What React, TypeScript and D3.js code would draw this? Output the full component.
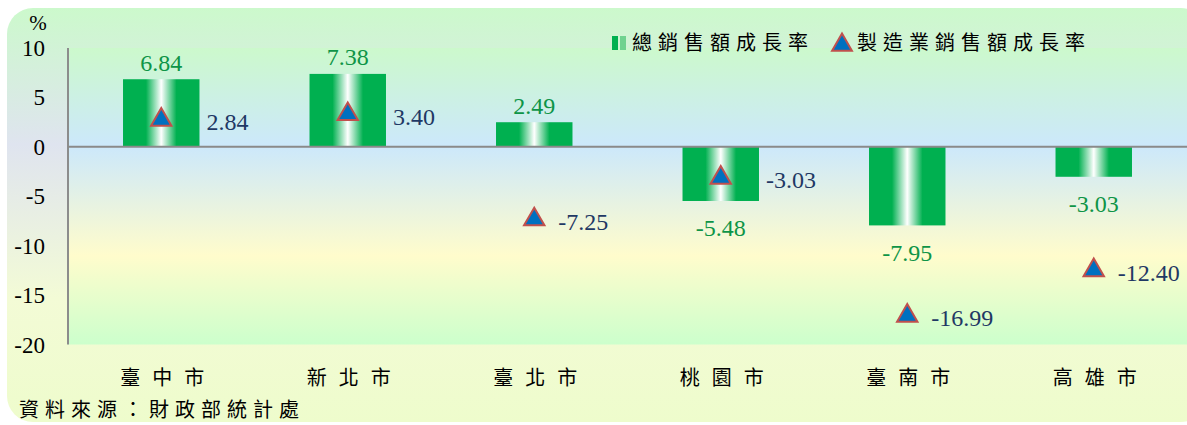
import React, { useEffect, useRef } from 'react';
import * as d3 from 'd3';

const cities = ['臺中市', '新北市', '臺北市', '桃園市', '臺南市', '高雄市'];
const totalSales = [6.84, 7.38, 2.49, -5.48, -7.95, -3.03];
const mfgSales = [2.84, 3.4, -7.25, -3.03, -16.99, -12.4];
const yTicks = [10, 5, 0, -5, -10, -15, -20];
const legendLabels = ['總銷售額成長率', '製造業銷售額成長率'];
const sourceNote = '資料來源：財政部統計處';

const W = 1187;
const H = 425;
const serif = '"Liberation Serif", "Times New Roman", serif';
const cjk = '"Noto Sans CJK TC", "Noto Sans CJK SC", sans-serif';

const App: React.FC = () => {
  const svgRef = useRef<SVGSVGElement>(null);

  useEffect(() => {
    if (!svgRef.current) return;
    const svg = d3.select(svgRef.current);
    svg.selectAll('*').remove();

    const margin = { top: 48, right: 0, bottom: 80, left: 68 };
    const plotW = W - margin.left - margin.right;
    const plotH = H - margin.top - margin.bottom - 0.5;

    const defs = svg.append('defs');

    // outer panel gradient
    const outerGrad = defs.append('linearGradient')
      .attr('id', 'outerGrad').attr('x1', 0).attr('y1', 0).attr('x2', 0).attr('y2', 1);
    [['0%', '#ccf9cc'], ['33%', '#dfe4ef'], ['70%', '#f3fbd6'], ['100%', '#eefccc']].forEach(([o, c]) =>
      outerGrad.append('stop').attr('offset', o).attr('stop-color', c));

    // plot area gradient
    const plotGrad = defs.append('linearGradient')
      .attr('id', 'plotGrad').attr('x1', 0).attr('y1', 0).attr('x2', 0).attr('y2', 1);
    [['0%', '#ccf9cc'], ['33%', '#cce8fb'], ['70%', '#fffccc'], ['100%', '#ccffcc']].forEach(([o, c]) =>
      plotGrad.append('stop').attr('offset', o).attr('stop-color', c));

    // bar gradient (green edges, white centre)
    const barGrad = defs.append('linearGradient')
      .attr('id', 'barGrad').attr('x1', 0).attr('y1', 0).attr('x2', 1).attr('y2', 0);
    [['0%', '#00b050'], ['30%', '#00b050'], ['50%', '#ffffff'], ['70%', '#00b050'], ['100%', '#00b050']].forEach(([o, c]) =>
      barGrad.append('stop').attr('offset', o).attr('stop-color', c));

    svg.append('rect')
      .attr('x', 7).attr('y', 8).attr('width', W - 7 + 20).attr('height', H - 8 - 3)
      .attr('rx', 26).attr('fill', 'url(#outerGrad)');

    const x = d3.scaleBand<string>().domain(cities).range([margin.left, margin.left + plotW]).paddingInner(0.59).paddingOuter(0.295);
    const y = d3.scaleLinear().domain([-20, 10]).range([margin.top + plotH, margin.top]);

    svg.append('rect')
      .attr('x', margin.left).attr('y', y(10))
      .attr('width', plotW).attr('height', y(-20) - y(10))
      .attr('fill', 'url(#plotGrad)');

    // y axis
    svg.append('line')
      .attr('x1', margin.left).attr('x2', margin.left)
      .attr('y1', y(10)).attr('y2', y(-20))
      .attr('stroke', '#8c8c8c').attr('stroke-width', 2);

    svg.append('g').selectAll('text').data(yTicks).enter().append('text')
      .attr('x', 45).attr('y', d => y(d)).attr('dy', '0.35em')
      .attr('text-anchor', 'end')
      .style('font-family', serif).style('font-size', '23px').style('fill', '#000')
      .text(d => d);

    svg.append('text')
      .attr('x', 38).attr('y', 30).attr('text-anchor', 'middle')
      .style('font-family', serif).style('font-size', '21px')
      .text('%');

    // bars
    svg.append('g').selectAll('rect').data(totalSales).enter().append('rect')
      .attr('x', (_, i) => x(cities[i])!)
      .attr('y', d => y(Math.max(0, d)))
      .attr('width', x.bandwidth())
      .attr('height', d => Math.abs(y(d) - y(0)))
      .attr('fill', 'url(#barGrad)');

    // zero line
    svg.append('line')
      .attr('x1', margin.left).attr('x2', W)
      .attr('y1', y(0)).attr('y2', y(0))
      .attr('stroke', '#8a8a8a').attr('stroke-width', 2);

    // bar labels
    svg.append('g').selectAll('text').data(totalSales).enter().append('text')
      .attr('x', (_, i) => x(cities[i])! + x.bandwidth() / 2)
      .attr('y', d => d >= 0 ? y(d) - 17 : y(d) + 27)
      .attr('dy', '0.35em')
      .attr('text-anchor', 'middle')
      .style('font-family', serif).style('font-size', '24px').style('fill', '#0e9447')
      .text(d => d.toFixed(2));

    // triangles
    const tri = d3.symbol().type(d3.symbolTriangle).size(180);
    svg.append('g').selectAll('path').data(mfgSales).enter().append('path')
      .attr('d', tri)
      .attr('transform', (d, i) => `translate(${x(cities[i])! + x.bandwidth() / 2},${y(d) + 1})`)
      .attr('fill', '#0070c0').attr('stroke', '#c0504d').attr('stroke-width', 2)
      .attr('stroke-linejoin', 'miter');

    // triangle labels
    svg.append('g').selectAll('text').data(mfgSales).enter().append('text')
      .attr('x', (d, i) => {
        const b = totalSales[i];
        const inside = (b >= 0 && d >= 0 && d <= b) || (b < 0 && d < 0 && d >= b);
        const cx = x(cities[i])! + x.bandwidth() / 2;
        return inside ? x(cities[i])! + x.bandwidth() + 7 : cx + 24;
      })
      .attr('y', d => y(d) + 3)
      .attr('dy', '0.35em')
      .style('font-family', serif).style('font-size', '24px').style('fill', '#1f3864')
      .text(d => d.toFixed(2));

    // category labels
    svg.append('g').selectAll('text').data(cities).enter().append('text')
      .attr('x', d => x(d)! + x.bandwidth() / 2 + 7)
      .attr('y', 378).attr('dy', '0.35em')
      .attr('text-anchor', 'middle')
      .style('font-family', cjk).style('font-size', '20px').style('letter-spacing', '12px')
      .style('fill', '#000')
      .text(d => d);

    // legend
    const lg = svg.append('g').attr('transform', 'translate(612,43)');
    lg.append('rect').attr('x', 0).attr('y', -7).attr('width', 6).attr('height', 14).attr('fill', '#00b050');
    lg.append('rect').attr('x', 8).attr('y', -7).attr('width', 6).attr('height', 14).attr('fill', '#6fd28f');
    lg.append('text').attr('x', 20).attr('y', 0).attr('dy', '0.35em')
      .style('font-family', cjk).style('font-size', '20px').style('letter-spacing', '6px')
      .text(legendLabels[0]);
    lg.append('path')
      .attr('d', d3.symbol().type(d3.symbolTriangle).size(170)())
      .attr('transform', 'translate(230,2)')
      .attr('fill', '#0070c0').attr('stroke', '#c0504d').attr('stroke-width', 2);
    lg.append('text').attr('x', 245).attr('y', 0).attr('dy', '0.35em')
      .style('font-family', cjk).style('font-size', '20px').style('letter-spacing', '6px')
      .text(legendLabels[1]);

    // source note
    svg.append('text')
      .attr('x', 19).attr('y', 410).attr('dy', '0.35em')
      .style('font-family', cjk).style('font-size', '20px').style('letter-spacing', '6px')
      .text(sourceNote);
  }, []);

  return (
    <svg
      ref={svgRef}
      width={W}
      height={H}
      style={{ position: 'absolute', left: 0, top: 0, background: '#fff' }}
    />
  );
};

export default App;
